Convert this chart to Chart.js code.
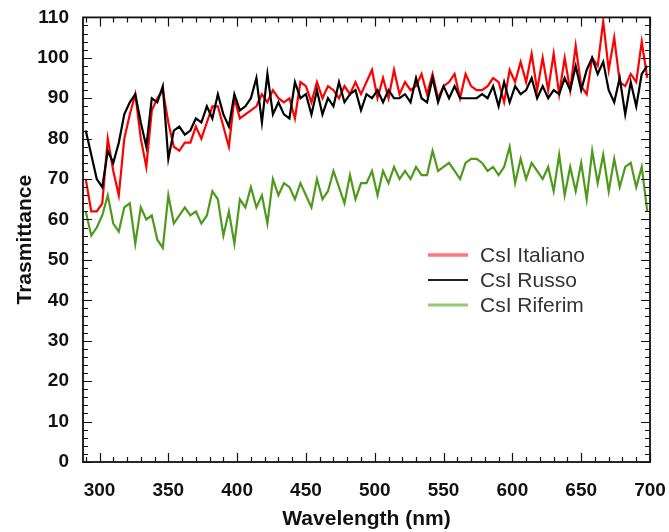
<!DOCTYPE html>
<html>
<head>
<meta charset="utf-8">
<script src="https://cdn.jsdelivr.net/npm/chart.js@4.4.0/dist/chart.umd.min.js"></script>
<style>
  html, body { margin: 0; padding: 0; background: #fff; }
</style>
</head>
<body>
<canvas id="chart" width="669" height="532"></canvas>
<script>
// wavelength grid (nm)
const wavelengths = [
  290, 294, 298, 302, 306, 310, 314, 318, 322, 326,
  330, 334, 338, 342, 346, 350, 354, 358, 362, 366,
  370, 374, 378, 382, 386, 390, 394, 398, 402, 406,
  410, 414, 418, 422, 426, 430, 434, 438, 442, 446,
  450, 454, 458, 462, 466, 470, 474, 478, 482, 486,
  490, 494, 498, 502, 506, 510, 514, 518, 522, 526,
  530, 534, 538, 542, 546, 550, 554, 558, 562, 566,
  570, 574, 578, 582, 586, 590, 594, 598, 602, 606,
  610, 614, 618, 622, 626, 630, 634, 638, 642, 646,
  650, 654, 658, 662, 666, 670, 674, 678, 682, 686,
  690, 694, 698
];

const csiItaliano = [
  70, 62, 62, 64, 80, 72, 66, 80, 86, 91,
  80, 73, 87, 90, 92, 84, 78, 77, 79, 79,
  83, 80, 84, 88, 88, 83, 78, 90, 85, 86,
  87, 88, 91, 89, 92, 90, 89, 90, 85, 94,
  93, 89, 94, 90, 93, 92, 90, 93, 91, 94,
  91, 94, 97, 90, 95, 90, 97, 91, 94, 92,
  93, 96, 91, 96, 90, 93, 94, 96, 90, 96,
  93, 92, 92, 93, 95, 94, 89, 97, 94, 99,
  94, 101, 92, 100, 92, 101, 91, 100, 92, 103,
  93, 91, 100, 98, 109, 97, 105, 94, 93, 96,
  94, 104, 95
];

const csiRusso = [
  82, 76, 70, 68, 77, 74, 79, 86, 89, 91,
  84, 78, 90, 89, 93, 75, 82, 83, 81, 82,
  85, 84, 88, 85, 91, 86, 83, 91, 87, 88,
  90, 95, 84, 96, 86, 89, 86, 85, 94, 90,
  91, 86, 92, 86, 90, 88, 94, 89, 91, 92,
  87, 91, 90, 92, 89, 92, 90, 90, 91, 89,
  95, 90, 89, 95, 89, 93, 90, 93, 90, 90,
  90, 90, 91, 90, 93, 88, 94, 89, 93, 91,
  92, 95, 90, 93, 90, 92, 91, 95, 92, 98,
  92, 97, 100, 96, 99, 92, 89, 95, 86, 94,
  88, 96, 98
];

const csiRiferim = [
  62, 56, 58, 61, 66, 59, 57, 63, 64, 54,
  63, 60, 61, 55, 53, 66, 59, 61, 63, 61,
  62, 59, 61, 67, 65, 56, 62, 54, 65, 63,
  68, 63, 66, 59, 70, 66, 69, 68, 65, 69,
  66, 63, 70, 65, 67, 72, 68, 64, 71, 65,
  69, 69, 72, 66, 72, 69, 73, 70, 72, 70,
  73, 71, 71, 77, 72, 73, 74, 72, 70, 74,
  75, 75, 74, 72, 73, 71, 73, 78, 69, 75,
  70, 74, 72, 70, 73, 67, 76, 66, 73, 67,
  74, 65, 77, 69, 76, 67, 75, 68, 73, 74,
  68, 73, 62
];

const xTickValues = [300, 350, 400, 450, 500, 550, 600, 650, 700];
const yTickValues = [0, 10, 20, 30, 40, 50, 60, 70, 80, 90, 100, 110];

const seriesNames = ['CsI Italiano', 'CsI Russo', 'CsI Riferim'];

const toPoints = (vals) => vals.map((v, i) => ({ x: wavelengths[i], y: v }));

const tickFont = { family: 'Liberation Sans', size: 19, weight: 'bold' };
const titleFont = { family: 'Liberation Sans', size: 21, weight: 'bold' };

// inward ticks on all four sides + frame
const boxTicks = {
    id: 'boxTicks',
    afterDraw(chart) {
        const { ctx, chartArea: a, scales: { x, y } } = chart;
        ctx.save();
        ctx.strokeStyle = '#111';
        ctx.lineWidth = 1.2;
        ctx.beginPath();
        for (let v = 290; v <= 700; v += 10) {
            const px = Math.round(x.getPixelForValue(v)) + 0.5;
            const len = v % 50 === 0 ? 9 : 5;
            ctx.moveTo(px, a.bottom); ctx.lineTo(px, a.bottom - len);
            ctx.moveTo(px, a.top); ctx.lineTo(px, a.top + len);
        }
        for (let v = 0; v <= 110; v += 2) {
            const py = Math.round(y.getPixelForValue(v)) + 0.5;
            const len = v % 10 === 0 ? 9 : 5;
            ctx.moveTo(a.left, py); ctx.lineTo(a.left + len, py);
            ctx.moveTo(a.right, py); ctx.lineTo(a.right - len, py);
        }
        ctx.stroke();
        ctx.lineWidth = 1.8;
        ctx.strokeRect(a.left, a.top, a.right - a.left, a.bottom - a.top);
        ctx.restore();
    }
};

// legend drawn inside the plot
const insideLegend = {
    id: 'insideLegend',
    afterDraw(chart) {
        const { ctx } = chart;
        const colors = ['rgba(255,60,60,0.7)', '#222', 'rgba(110,185,70,0.75)'];
        const widths = [3.5, 2, 3];
        ctx.save();
        ctx.font = '21px "Liberation Sans"';
        ctx.textBaseline = 'middle';
        ctx.fillStyle = '#333';
        seriesNames.forEach((name, i) => {
            const yy = 255 + i * 25;
            ctx.strokeStyle = colors[i];
            ctx.lineWidth = widths[i];
            ctx.beginPath();
            ctx.moveTo(428, yy);
            ctx.lineTo(468, yy);
            ctx.stroke();
            ctx.fillText(name, 480, yy + 1);
        });
        ctx.restore();
    }
};

new Chart(document.getElementById('chart'), {
    type: 'line',
    data: {
        datasets: [
            {
                label: seriesNames[1],
                data: toPoints(csiRusso),
                borderColor: '#000',
                borderWidth: 2.2,
                pointRadius: 0,
                tension: 0
            },
            {
                label: seriesNames[0],
                data: toPoints(csiItaliano),
                borderColor: '#ff0000',
                borderWidth: 2.2,
                pointRadius: 0,
                tension: 0
            },
            {
                label: seriesNames[2],
                data: toPoints(csiRiferim),
                borderColor: '#4f9a1c',
                borderWidth: 2.2,
                pointRadius: 0,
                tension: 0
            }
        ]
    },
    options: {
        responsive: false,
        animation: false,
        layout: { padding: { top: 17, right: 19, bottom: 0, left: 0 } },
        plugins: {
            legend: { display: false },
            tooltip: { enabled: false }
        },
        scales: {
            x: {
                type: 'linear',
                min: 288,
                max: 700,
                grid: { display: false },
                border: { display: false },
                afterBuildTicks: (s) => { s.ticks = xTickValues.map(v => ({ value: v })); },
                afterFit: (s) => {
                    s.height = 70;
                    s.paddingRight = 0;
                    s.paddingLeft = 0;
                },
                ticks: {
                    font: tickFont,
                    color: '#111',
                    padding: 9,
                    maxRotation: 0,
                    autoSkip: false
                },
                title: {
                    display: true,
                    text: 'Wavelength (nm)',
                    font: titleFont,
                    color: '#111',
                    padding: { top: 0, bottom: 0 }
                }
            },
            y: {
                min: 0,
                max: 110,
                grid: { display: false },
                border: { display: false },
                afterBuildTicks: (s) => { s.ticks = yTickValues.map(v => ({ value: v })); },
                afterFit: (s) => { s.width = 83; },
                ticks: {
                    font: tickFont,
                    color: '#111',
                    padding: 6,
                    autoSkip: false
                },
                title: {
                    display: true,
                    text: 'Trasmittance',
                    font: titleFont,
                    color: '#111',
                    padding: { top: 13, bottom: 0 }
                }
            }
        }
    },
    plugins: [boxTicks, insideLegend]
});
</script>
</body>
</html>
